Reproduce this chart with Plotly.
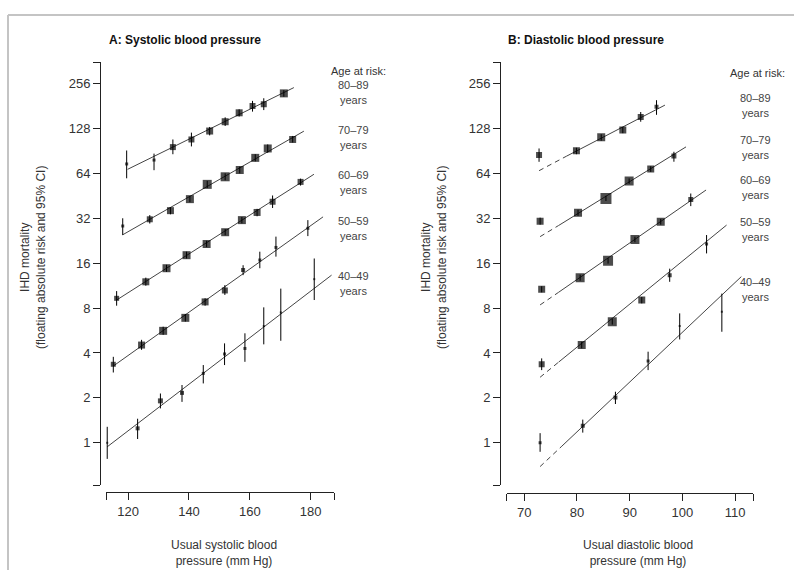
import math
import plotly.graph_objects as go

# ---------------- DATA ----------------
age_groups = ["80–89", "70–79", "60–69", "50–59", "40–49"]

# Panel A: systolic
sbp_x = {
    "80–89": [119.5, 128.5, 134.7, 140.8, 146.8, 151.9, 156.5, 160.9, 164.6, 171.2],
    "70–79": [118.2, 127.1, 133.9, 140.3, 146.0, 151.9, 156.7, 161.8, 165.9, 174.1],
    "60–69": [116.2, 125.8, 132.6, 139.2, 145.8, 151.9, 157.4, 162.4, 167.5, 176.7],
    "50–59": [115.1, 124.4, 131.5, 138.8, 145.3, 151.8, 157.8, 163.3, 168.6, 179.1],
    "40–49": [113.1, 123.1, 130.6, 137.7, 144.7, 151.7, 158.4, 164.6, 170.2, 181.2],
}
sbp_risk = {
    "80–89": [74, 78.6, 96, 108, 123, 142, 163, 181, 186, 220],
    "70–79": [28.4, 31.5, 36, 43, 54, 60.7, 67.4, 81.3, 94, 108],
    "60–69": [9.3, 12.0, 14.8, 18.1, 21.5, 25.8, 31.1, 35, 41.3, 56.1],
    "50–59": [3.36, 4.52, 5.63, 6.88, 8.8, 10.5, 14.4, 16.8, 20.4, 27.4],
    "40–49": [1.0, 1.25, 1.91, 2.16, 2.92, 3.94, 4.29, 6.06, 7.48, 12.5],
}
sbp_lo = {
    "80–89": [59.3, 67.2, 86, 97, 115, 133, 154, 166, 170, 209],
    "70–79": [24.7, 29.5, 34, 41, 51, 57.5, 64, 77, 88, 103],
    "60–69": [8.3, 11.3, 14.0, 17.2, 20.5, 24.6, 29.6, 33, 37.5, 53],
    "50–59": [2.96, 4.2, 5.3, 6.5, 8.3, 9.8, 13.3, 14.8, 17.7, 24.3],
    "40–49": [0.78, 1.06, 1.70, 1.88, 2.50, 3.32, 3.49, 4.57, 4.83, 9.06],
}
sbp_hi = {
    "80–89": [91.1, 86.8, 108, 120, 131, 152, 172, 196, 204, 231],
    "70–79": [32, 33.6, 38, 45, 57, 64, 71, 86, 100, 114],
    "60–69": [10.4, 12.8, 15.6, 19.1, 22.6, 27.1, 32.6, 37, 45.5, 59],
    "50–59": [3.77, 4.9, 6.0, 7.3, 9.3, 11.4, 15.5, 19.1, 24.1, 31.1],
    "40–49": [1.28, 1.45, 2.14, 2.44, 3.32, 4.64, 5.42, 8.09, 10.8, 17.2],
}
sbp_size = {
    "80–89": [3, 3, 6, 6, 7, 7, 7, 6, 6, 8],
    "70–79": [3, 6, 7, 8, 9, 9, 8, 8, 8, 7],
    "60–69": [5, 7, 8, 8, 8, 8, 8, 7, 6, 6],
    "50–59": [5, 7, 8, 8, 7, 6, 4, 3, 3, 3],
    "40–49": [2, 4, 5, 4, 3, 3, 3, 2, 2, 2],
}
# fitted lines (start, end)
sbp_fit_x = {
    "80–89": [119.8, 174.5], "70–79": [118.2, 177.8], "60–69": [116.2, 181.1],
    "50–59": [115.1, 184.1], "40–49": [113.1, 186.9],
}
sbp_fit_y = {
    "80–89": [68.1, 240.5], "70–79": [24.8, 122.8], "60–69": [9.06, 63.1],
    "50–59": [3.27, 32.7], "40–49": [0.94, 13.3],
}

# Panel B: diastolic
dbp_x = {
    "80–89": [72.8, 79.9, 84.6, 88.7, 92.1, 95.1],
    "70–79": [73.0, 80.2, 85.5, 89.9, 94.0, 98.4],
    "60–69": [73.3, 80.6, 85.9, 91.0, 95.9, 101.6],
    "50–59": [73.3, 80.9, 86.7, 92.3, 97.6, 104.6],
    "40–49": [73.0, 81.1, 87.3, 93.5, 99.5, 107.5],
}
dbp_risk = {
    "80–89": [85, 90.6, 111.6, 125, 153, 179],
    "70–79": [30.6, 34.8, 43.5, 56.8, 68.4, 83.6],
    "60–69": [10.7, 12.8, 16.6, 23.1, 30.3, 42.8],
    "50–59": [3.36, 4.52, 6.48, 9.06, 13.3, 21.5],
    "40–49": [1.0, 1.30, 2.01, 3.53, 6.06, 7.55],
}
dbp_lo = {
    "80–89": [76.5, 86, 106, 119, 142, 158],
    "70–79": [29, 33.2, 41.8, 54.5, 65.5, 76.6],
    "60–69": [10.2, 12.2, 15.9, 22.1, 29, 38.6],
    "50–59": [3.07, 4.3, 6.2, 8.6, 12.0, 18.6],
    "40–49": [0.87, 1.17, 1.82, 3.07, 4.93, 5.55],
}
dbp_hi = {
    "80–89": [94, 95, 117, 131, 165, 198],
    "70–79": [32.3, 36.5, 45.3, 59.2, 71.4, 89.3],
    "60–69": [11.2, 13.4, 17.3, 24.1, 31.7, 46.9],
    "50–59": [3.68, 4.75, 6.8, 9.5, 14.7, 24.7],
    "40–49": [1.16, 1.43, 2.2, 4.08, 7.37, 10.0],
}
dbp_size = {
    "80–89": [6, 7, 8, 7, 6, 4],
    "70–79": [7, 8, 11, 9, 7, 5],
    "60–69": [7, 9, 10, 9, 8, 5],
    "50–59": [6, 8, 9, 7, 4, 3],
    "40–49": [3, 4, 4, 3, 2, 2],
}
# fitted lines: start, end of dashed part, end of solid part
dbp_fit_x = {
    "80–89": [72.8, 78.0, 96.7], "70–79": [73.0, 76.5, 100.7], "60–69": [73.0, 76.5, 104.5],
    "50–59": [73.0, 76.5, 108.4], "40–49": [73.0, 77.0, 111.2],
}
dbp_fit_y = {
    "80–89": [66.7, 83.4, 183.5], "70–79": [24.1, 28.6, 96.3], "60–69": [8.40, 10.2, 49.5],
    "50–59": [2.75, 3.47, 28.8], "40–49": [0.693, 0.94, 13.0],
}

y_tickvals = [1, 2, 4, 8, 16, 32, 64, 128, 256]
sbp_tickvals = [120, 140, 160, 180]
dbp_tickvals = [70, 80, 90, 100, 110]

# ---------------- FIGURE ----------------
W, H = 794, 570
FONT = "Liberation Sans, Arial, sans-serif"
INK = "#222222"
LINE = "#444444"


def px(x):
    return x / W


def py(y):
    return 1 - y / H


fig = go.Figure()

for g in age_groups:
    fig.add_trace(go.Scatter(x=sbp_fit_x[g], y=sbp_fit_y[g], mode="lines",
                             line=dict(color=LINE, width=1), xaxis="x", yaxis="y",
                             showlegend=False, hoverinfo="skip"))
    fig.add_trace(go.Scatter(
        x=sbp_x[g], y=sbp_risk[g], mode="markers",
        marker=dict(symbol="square", color="black", size=sbp_size[g], line=dict(width=0)),
        error_y=dict(type="data", symmetric=False,
                     array=[h - v for h, v in zip(sbp_hi[g], sbp_risk[g])],
                     arrayminus=[v - l for l, v in zip(sbp_lo[g], sbp_risk[g])],
                     color="black", thickness=1, width=0),
        xaxis="x", yaxis="y", showlegend=False))

for g in age_groups:
    fig.add_trace(go.Scatter(x=dbp_fit_x[g][:2], y=dbp_fit_y[g][:2], mode="lines",
                             line=dict(color=LINE, width=1, dash="5px,4px"), xaxis="x2", yaxis="y2",
                             showlegend=False, hoverinfo="skip"))
    fig.add_trace(go.Scatter(x=dbp_fit_x[g][1:], y=dbp_fit_y[g][1:], mode="lines",
                             line=dict(color=LINE, width=1), xaxis="x2", yaxis="y2",
                             showlegend=False, hoverinfo="skip"))
    fig.add_trace(go.Scatter(
        x=dbp_x[g], y=dbp_risk[g], mode="markers",
        marker=dict(symbol="square", color="black", size=dbp_size[g], line=dict(width=0)),
        error_y=dict(type="data", symmetric=False,
                     array=[h - v for h, v in zip(dbp_hi[g], dbp_risk[g])],
                     arrayminus=[v - l for l, v in zip(dbp_lo[g], dbp_risk[g])],
                     color="black", thickness=1, width=0),
        xaxis="x2", yaxis="y2", showlegend=False))

# axis limits (log2 units for y)
y_lo2, y_hi2 = -0.94, 8.48
y_min, y_max = 2 ** y_lo2, 2 ** y_hi2
ydom = [py(485), py(62)]

sbp_range = [112.7, 187.7]
dbp_range = [66.66, 113.47]

common_x = dict(showgrid=False, zeroline=False, showline=True, linecolor=INK, linewidth=1,
                ticks="outside", ticklen=7, tickcolor=INK, tickwidth=1,
                tickfont=dict(family=FONT, size=13, color="#333"), anchor="free")
common_y = dict(type="log", showgrid=False, zeroline=False, showline=True, linecolor=INK,
                linewidth=1, ticks="outside", ticklen=7, tickcolor=INK, tickwidth=1,
                tickfont=dict(family=FONT, size=13, color="#333"), anchor="free",
                range=[y_lo2 * math.log10(2), y_hi2 * math.log10(2)], domain=ydom,
                tickvals=[y_min] + y_tickvals + [y_max],
                ticktext=[""] + [str(v) for v in y_tickvals] + [""])

fig.update_layout(
    width=W, height=H, margin=dict(l=0, r=0, t=0, b=0),
    paper_bgcolor="white", plot_bgcolor="rgba(0,0,0,0)",
    font=dict(family=FONT, color=INK),
    xaxis=dict(common_x, domain=[px(106), px(334)], range=sbp_range, position=py(492),
               tickvals=[sbp_range[0]] + sbp_tickvals + [sbp_range[1]],
               ticktext=[""] + [str(v) for v in sbp_tickvals] + [""]),
    yaxis=dict(common_y, position=px(100)),
    xaxis2=dict(common_x, domain=[px(506.7), px(753.3)], range=dbp_range, position=py(493),
                tickvals=[dbp_range[0]] + dbp_tickvals + [dbp_range[1]],
                ticktext=[""] + [str(v) for v in dbp_tickvals] + [""]),
    yaxis2=dict(common_y, position=px(500)),
)

ann = []
# panel titles
ann.append(dict(x=px(107), y=py(40), text="<b>A: Systolic blood pressure</b>", xanchor="left",
                font=dict(size=12, color="#111")))
ann.append(dict(x=px(506), y=py(40), text="<b>B: Diastolic blood pressure</b>", xanchor="left",
                font=dict(size=12, color="#111")))
# y titles
for cx in (33, 434):
    ann.append(dict(x=px(cx), y=py(258), text="IHD mortality<br>(floating absolute risk and 95% CI)",
                    textangle=-90, font=dict(size=12, color="#333")))
# x titles
ann.append(dict(x=px(224), y=py(553), text="Usual systolic blood<br>pressure (mm Hg)",
                font=dict(size=12, color="#333")))
ann.append(dict(x=px(638), y=py(553), text="Usual diastolic blood<br>pressure (mm Hg)",
                font=dict(size=12, color="#333")))
# age labels (each line placed separately)
ann.append(dict(x=px(358), y=py(71), text="Age at risk:", font=dict(size=11, color="#333")))
ann.append(dict(x=px(757), y=py(73), text="Age at risk:", font=dict(size=11, color="#333")))
left_label_y = [85, 130, 175, 221, 276]
right_label_y = [98, 140, 180, 222, 282]
for g, ly, ry in zip(age_groups, left_label_y, right_label_y):
    ann.append(dict(x=px(353), y=py(ly), text=g, font=dict(size=11, color="#444")))
    ann.append(dict(x=px(353), y=py(ly + 15), text="years", font=dict(size=11, color="#444")))
    ann.append(dict(x=px(755), y=py(ry), text=g, font=dict(size=11, color="#444")))
    ann.append(dict(x=px(755), y=py(ry + 15), text="years", font=dict(size=11, color="#444")))

for a in ann:
    a.setdefault("xref", "paper")
    a.setdefault("yref", "paper")
    a.setdefault("xanchor", "center")
    a.setdefault("yanchor", "middle")
    a.setdefault("showarrow", False)
    a["font"].setdefault("family", FONT)
fig.update_layout(annotations=ann)

# frame lines of the figure box
fig.update_layout(shapes=[
    dict(type="line", xref="paper", yref="paper", x0=px(8), x1=1, y0=py(15), y1=py(15),
         line=dict(color="#c4c4c4", width=2)),
    dict(type="line", xref="paper", yref="paper", x0=px(8), x1=px(8), y0=py(15), y1=0,
         line=dict(color="#c4c4c4", width=2)),
])

fig.write_html("out.html")
